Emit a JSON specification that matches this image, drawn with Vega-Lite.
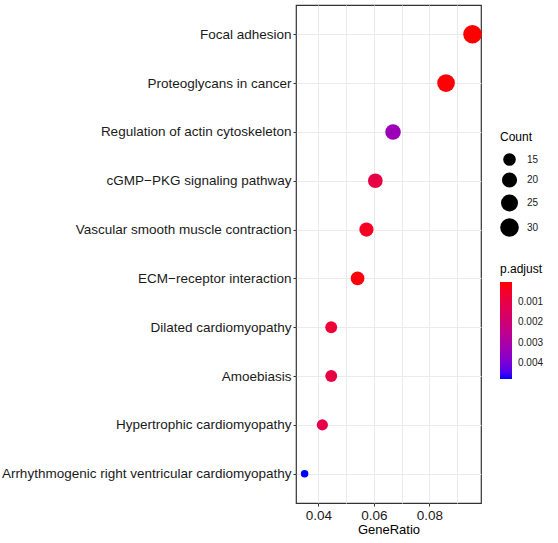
{
  "$schema": "https://vega.github.io/schema/vega-lite/v6.json",
  "width": 185,
  "height": 498,
  "autosize": "none",
  "padding": {"left": 296, "top": 5, "right": 77, "bottom": 40},
  "background": "white",
  "config": {
    "font": "Liberation Sans",
    "view": {"stroke": "#333333", "strokeWidth": 1.2},
    "axis": {"labelFont": "Liberation Sans", "titleFont": "Liberation Sans"},
    "legend": {"labelFont": "Liberation Sans", "titleFont": "Liberation Sans"}
  },
  "data": {
    "values": [
      {"Description": "Focal adhesion", "GeneRatio": 0.09554, "Count": 30, "padj": 0.00001},
      {"Description": "Proteoglycans in cancer", "GeneRatio": 0.08599, "Count": 27, "padj": 0.00005},
      {"Description": "Regulation of actin cytoskeleton", "GeneRatio": 0.06688, "Count": 21, "padj": 0.0034},
      {"Description": "cGMP−PKG signaling pathway", "GeneRatio": 0.0605, "Count": 19, "padj": 0.001},
      {"Description": "Vascular smooth muscle contraction", "GeneRatio": 0.0573, "Count": 18, "padj": 0.0004},
      {"Description": "ECM−receptor interaction", "GeneRatio": 0.0541, "Count": 17, "padj": 0.0001},
      {"Description": "Dilated cardiomyopathy", "GeneRatio": 0.0446, "Count": 14, "padj": 0.0007},
      {"Description": "Amoebiasis", "GeneRatio": 0.0446, "Count": 14, "padj": 0.001},
      {"Description": "Hypertrophic cardiomyopathy", "GeneRatio": 0.0414, "Count": 13, "padj": 0.0011},
      {"Description": "Arrhythmogenic right ventricular cardiomyopathy", "GeneRatio": 0.035, "Count": 11, "padj": 0.0048}
    ]
  },
  "mark": {"type": "point", "filled": true, "shape": "circle", "opacity": 1, "strokeWidth": 0, "clip": false},
  "encoding": {
    "x": {
      "field": "GeneRatio",
      "type": "quantitative",
      "scale": {"domain": [0.0319, 0.0986], "nice": false, "zero": false},
      "axis": {
        "title": "GeneRatio",
        "values": [0.04, 0.05, 0.06, 0.07, 0.08, 0.09],
        "labelExpr": "(round(datum.value*100) % 2 == 0) ? format(datum.value, '.2f') : ''",
        "tickOpacity": {"condition": {"test": "round(datum.value*100) % 2 == 0", "value": 1}, "value": 0},
        "grid": true,
        "gridColor": "#EBEBEB",
        "gridWidth": 1,
        "domain": false,
        "ticks": true,
        "tickColor": "#333333",
        "tickSize": 3,
        "labelFontSize": 13.5,
        "labelColor": "#1a1a1a",
        "labelPadding": 2,
        "titleFontSize": 13,
        "titleFontWeight": "normal",
        "titleColor": "#000000",
        "titlePadding": 2
      }
    },
    "y": {
      "field": "Description",
      "type": "nominal",
      "sort": [
        "Focal adhesion",
        "Proteoglycans in cancer",
        "Regulation of actin cytoskeleton",
        "cGMP−PKG signaling pathway",
        "Vascular smooth muscle contraction",
        "ECM−receptor interaction",
        "Dilated cardiomyopathy",
        "Amoebiasis",
        "Hypertrophic cardiomyopathy",
        "Arrhythmogenic right ventricular cardiomyopathy"
      ],
      "scale": {"type": "point", "padding": 0.6},
      "axis": {
        "title": null,
        "grid": true,
        "gridColor": "#EBEBEB",
        "gridWidth": 1,
        "domain": false,
        "ticks": true,
        "tickColor": "#333333",
        "tickSize": 3,
        "labelFontSize": 13.5,
        "labelColor": "#1a1a1a",
        "labelPadding": 2,
        "labelLimit": 400
      }
    },
    "size": {
      "field": "Count",
      "type": "quantitative",
      "scale": {"domain": [11, 13, 15, 20, 25, 30], "range": [57, 125, 158, 230, 290, 346], "zero": false},
      "legend": {
        "title": "Count",
        "values": [15, 20, 25, 30],
        "orient": "none",
        "legendX": 204,
        "legendY": 127,
        "symbolFillColor": "black",
        "symbolStrokeWidth": 0,
        "symbolOpacity": 1,
        "symbolType": "circle",
        "titleFontSize": 12,
        "titleFontWeight": "normal",
        "titleColor": "#000000",
        "labelFontSize": 10,
        "labelColor": "#1a1a1a",
        "labelOffset": 8,
        "rowPadding": 6,
        "titlePadding": 9
      }
    },
    "color": {
      "field": "padj",
      "type": "quantitative",
      "scale": {"domain": [0.0048, 0.00001], "range": ["#0000FF", "#FF0000"], "interpolate": "lab", "zero": false},
      "legend": {
        "title": "p.adjust",
        "orient": "none",
        "legendX": 204,
        "legendY": 259,
        "values": [0.001, 0.002, 0.003, 0.004],
        "format": ".3f",
        "gradientLength": 97,
        "gradientThickness": 12,
        "gradientStrokeWidth": 0,
        "titleFontSize": 12,
        "titleFontWeight": "normal",
        "titleColor": "#000000",
        "labelFontSize": 10,
        "labelColor": "#1a1a1a",
        "labelOffset": 6,
        "titlePadding": 6
      }
    }
  }
}
